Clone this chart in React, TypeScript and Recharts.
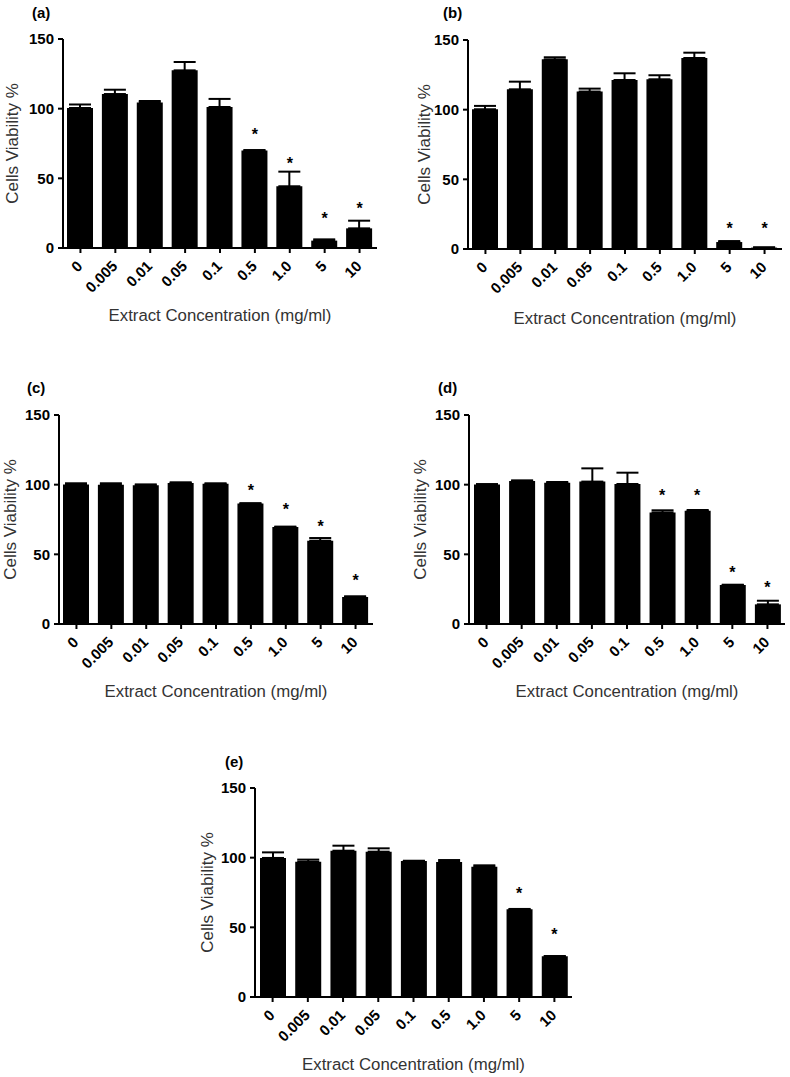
import React from 'react';
import { ComposedChart, Bar, Line, ErrorBar, XAxis, YAxis } from 'recharts';

// concentrations (mg/ml) shared by every panel
const concentrations = ['0', '0.005', '0.01', '0.05', '0.1', '0.5', '1.0', '5', '10'];
const yTicks = [0, 50, 100, 150];

// mean viability %, upper error (SEM) and height of the significance star
const viabilityA = [100.5, 110.5, 104.5, 127.5, 101.2, 70, 44.3, 5.3, 14.1];
const errorA = [2.5, 3.1, 1.0, 6.0, 5.8, 0.3, 10.5, 0.9, 5.5];
const starA = [null, null, null, null, null, 83.7, 63.4, 23.9, 31.1];

const viabilityB = [100.3, 114.6, 136.1, 113, 121.3, 121.8, 137.1, 5, 1];
const errorB = [2.4, 5.5, 1.5, 2.1, 4.8, 2.9, 3.8, 0.7, 0.2];
const starB = [null, null, null, null, null, null, null, 17.4, 17.4];

const viabilityC = [100.2, 100, 99.5, 101.2, 100.7, 86.4, 69.6, 59.8, 19.4];
const errorC = [0.8, 1, 0.7, 0.5, 0.2, 0.3, 0.3, 1.9, 0.5];
const starC = [null, null, null, null, null, 98.1, 84.9, 72.7, 34];

const viabilityD = [100.2, 102.6, 101.4, 102.2, 100.5, 80.1, 81.3, 28, 14.1];
const errorD = [0.2, 0.5, 0.5, 9.5, 8.1, 1.5, 0.5, 0.2, 2.6];
const starD = [null, null, null, null, null, 94.5, 94.5, 39.2, 28.7];

const viabilityE = [99.8, 97.1, 105, 104.3, 97.6, 96.9, 93.5, 62.9, 29.2];
const errorE = [4, 1.5, 3.6, 2.4, 0.2, 1.4, 1, 0.3, 0.2];
const starE = [null, null, null, null, null, null, null, 76.6, 47.1];

const FONT = '"Liberation Sans", Arial, sans-serif';

type Plot = { left: number; top: number; right: number; bottom: number };

function buildRows(values: number[], errors: number[], stars: (number | null)[]) {
  return concentrations.map((name, i) => ({
    name,
    value: values[i],
    err: [0, errors[i]],
    star: stars[i],
  }));
}

const XTick = (props: any) => {
  const { x, y, payload } = props;
  return (
    <g transform={`translate(${x},${y})`}>
      <text
        x={0}
        y={0}
        transform="translate(3,12) rotate(-45)"
        textAnchor="end"
        fontFamily={FONT}
        fontWeight="bold"
        fontSize={15}
        fill="#000"
      >
        {payload.value}
      </text>
    </g>
  );
};

const renderStar = (props: any) => {
  const { cx, cy, index } = props;
  if (cy == null || isNaN(cy)) return <g key={`s-${index}`} />;
  return (
    <text
      key={`s-${index}`}
      x={cx}
      y={cy + 9}
      textAnchor="middle"
      fontFamily={FONT}
      fontWeight="bold"
      fontSize={16}
      fill="#000"
    >
      *
    </text>
  );
};

function Panel({
  letter,
  letterPos,
  rows,
  plot,
  yLabelGap,
  xLabelDrop,
}: {
  letter: string;
  letterPos: [number, number];
  rows: any[];
  plot: Plot;
  yLabelGap: number;
  xLabelDrop: number;
}) {
  const padL = 63;
  const padT = 39;
  const padR = 12;
  const padB = 90;
  const yAxisW = 55;
  const xAxisH = 88;
  const w = plot.right - plot.left + padL + padR;
  const h = plot.bottom - plot.top + padT + padB;
  return (
    <>
      <div
        style={{
          position: 'absolute',
          left: letterPos[0],
          top: letterPos[1],
          fontFamily: FONT,
          fontWeight: 'bold',
          fontSize: 15,
          lineHeight: '15px',
          color: '#000',
        }}
      >
        {letter}
      </div>
      <div style={{ position: 'absolute', left: plot.left - padL, top: plot.top - padT }}>
        <ComposedChart
          width={w}
          height={h}
          data={rows}
          margin={{ top: padT, right: padR, left: padL - yAxisW, bottom: padB - xAxisH }}
        >
          <XAxis
            dataKey="name"
            height={xAxisH}
            interval={0}
            tick={<XTick />}
            axisLine={{ stroke: '#000', strokeWidth: 2 }}
            tickLine={{ stroke: '#000', strokeWidth: 2 }}
            tickSize={5}
            label={{
              value: 'Extract Concentration (mg/ml)',
              position: 'insideBottom',
              offset: xAxisH - xLabelDrop,
              style: { fontFamily: FONT, fontSize: 16.8, fill: '#333' },
            }}
          />
          <YAxis
            width={yAxisW}
            domain={[0, 150]}
            ticks={yTicks}
            interval={0}
            axisLine={{ stroke: '#000', strokeWidth: 2 }}
            tickLine={{ stroke: '#000', strokeWidth: 2 }}
            tickSize={5}
            tickMargin={4}
            tick={{ fontFamily: FONT, fontWeight: 'bold', fontSize: 15, fill: '#000' }}
            label={{
              value: 'Cells Viability %',
              angle: -90,
              position: 'insideLeft',
              offset: yAxisW - yLabelGap,
              style: { textAnchor: 'middle', fontFamily: FONT, fontSize: 17, fill: '#333' },
            }}
          />
          <Bar dataKey="value" fill="#000" barSize={26} isAnimationActive={false}>
            <ErrorBar dataKey="err" width={11} stroke="#000" strokeWidth={2} isAnimationActive={false} />
          </Bar>
          <Line
            dataKey="star"
            stroke="none"
            dot={renderStar}
            activeDot={false}
            legendType="none"
            isAnimationActive={false}
          />
        </ComposedChart>
      </div>
    </>
  );
}

export default function App() {
  return (
    <div style={{ position: 'relative', width: 790, height: 1077, background: '#fff', overflow: 'hidden' }}>
      <style>{`body{margin:0}`}</style>
      <Panel
        letter="(a)"
        letterPos={[32, 5]}
        rows={buildRows(viabilityA, errorA, starA)}
        plot={{ left: 63, top: 39, right: 377, bottom: 248 }}
        yLabelGap={51}
        xLabelDrop={73}
      />
      <Panel
        letter="(b)"
        letterPos={[443, 5]}
        rows={buildRows(viabilityB, errorB, starB)}
        plot={{ left: 468, top: 40, right: 782, bottom: 249 }}
        yLabelGap={44}
        xLabelDrop={75}
      />
      <Panel
        letter="(c)"
        letterPos={[27, 380]}
        rows={buildRows(viabilityC, errorC, starC)}
        plot={{ left: 59, top: 415, right: 373, bottom: 624 }}
        yLabelGap={49}
        xLabelDrop={73}
      />
      <Panel
        letter="(d)"
        letterPos={[438, 380]}
        rows={buildRows(viabilityD, errorD, starD)}
        plot={{ left: 469, top: 415, right: 785, bottom: 624 }}
        yLabelGap={49}
        xLabelDrop={73}
      />
      <Panel
        letter="(e)"
        letterPos={[225, 754]}
        rows={buildRows(viabilityE, errorE, starE)}
        plot={{ left: 255, top: 788, right: 572, bottom: 997 }}
        yLabelGap={48}
        xLabelDrop={73}
      />
    </div>
  );
}
